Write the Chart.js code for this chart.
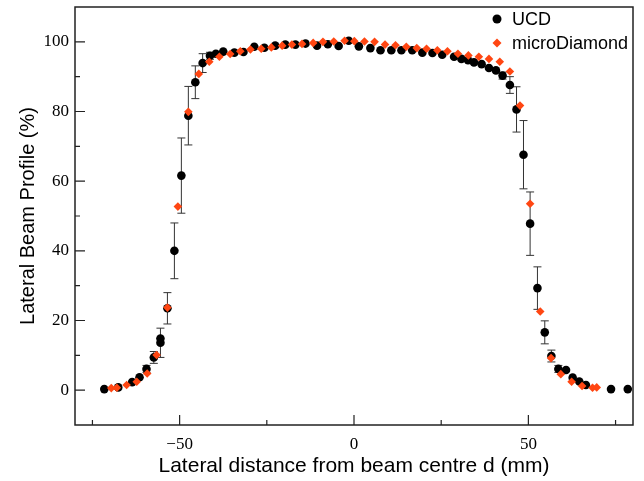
<!DOCTYPE html>
<html>
<head>
<meta charset="utf-8">
<script src="https://cdn.jsdelivr.net/npm/chart.js@4/dist/chart.umd.min.js"></script>
<style>
  html, body { margin: 0; padding: 0; background: #fff; }
  #wrap { width: 644px; height: 481px; }
</style>
</head>
<body>
<div id="wrap"><canvas id="myChart" width="644" height="481"></canvas></div>
<script>
// UCD (points + symmetric error bars)
var ucdX = [-71.6, -67.6, -63.6, -61.5, -59.5, -57.4, -55.5, -55.5, -53.5, -51.5,
            -49.5, -47.5, -45.5, -43.4, -41.3, -39.6, -37.5, -34.3, -31.7, -28.6,
            -25.7, -22.6, -19.7, -16.8, -13.9, -10.6, -7.5, -4.4, -1.5, 1.4,
            4.7, 7.6, 10.7, 13.6, 16.7, 19.6, 22.5, 25.3, 28.7, 30.8,
            32.7, 34.4, 36.6, 38.7, 40.7, 42.6, 44.7, 46.6, 48.6, 50.5,
            52.6, 54.7, 56.6, 58.6, 60.8, 62.7, 64.6, 66.5, 73.7, 78.5];
var ucdY = [0.3, 0.8, 2.3, 3.7, 6.1, 9.4, 13.6, 14.8, 23.5, 40.0,
            61.6, 78.8, 88.4, 93.9, 96.0, 96.6, 97.2, 96.9, 97.1, 98.6,
            98.3, 98.9, 99.2, 99.2, 99.5, 98.9, 99.3, 98.8, 100.3, 98.7,
            98.2, 97.6, 97.6, 97.6, 97.6, 96.9, 96.8, 96.3, 95.7, 95.1,
            94.7, 94.1, 93.6, 92.5, 91.8, 90.3, 87.6, 80.6, 67.6, 47.8,
            29.3, 16.6, 9.8, 6.1, 5.8, 3.6, 2.5, 1.5, 0.3, 0.3];
var ucdErr = [0, 0, 0, 0, 1.0, 1.7, 4.2, 0, 4.5, 8.0,
              10.8, 8.4, 4.7, 2.7, 1.0, 0, 0, 0, 0, 0,
              0, 0, 0, 0, 0, 0, 0, 0, 0, 0,
              0, 0, 0, 0, 0, 0, 0, 0, 0, 0,
              0, 0, 0, 0, 0, 1.0, 2.4, 6.5, 9.8, 9.1,
              6.1, 3.3, 1.7, 1.0, 0, 0, 0, 0, 0, 0];

// microDiamond
var mdX = [-69.6, -68.0, -65.2, -62.3, -59.3, -56.6, -53.5, -50.5, -47.5, -44.5,
           -41.5, -38.6, -35.5, -32.6, -29.7, -26.6, -23.7, -20.6, -17.8, -14.9,
           -11.7, -8.9, -5.8, -2.7, 0.1, 3.0, 5.9, 8.9, 11.9, 15.0,
           18.0, 20.8, 23.9, 26.8, 29.8, 32.8, 35.8, 38.7, 41.8, 44.7,
           47.6, 50.5, 53.4, 56.5, 59.3, 62.4, 65.4, 68.4, 69.6];
var mdY = [0.6, 0.7, 1.5, 2.4, 4.8, 10.1, 23.7, 52.7, 79.9, 90.8,
           94.3, 95.7, 96.5, 97.3, 97.8, 98.0, 98.4, 98.9, 99.2, 99.4,
           99.7, 100.0, 100.1, 100.3, 100.2, 100.1, 100.0, 99.2, 99.0, 98.6,
           98.2, 98.0, 97.6, 97.3, 96.6, 96.1, 95.7, 95.1, 94.3, 91.5,
           81.7, 53.5, 22.6, 9.2, 4.6, 2.4, 1.2, 0.7, 0.8];

var xMajor = [-50, 0, 50];
var xMinor = [-75, -25, 25, 75];
var yMajor = [0, 20, 40, 60, 80, 100];
var yMinor = [10, 30, 50, 70, 90];

var seriesNames = ['UCD', 'microDiamond'];
var colUCD = '#000000';
var colMD = '#ff4612';

function toPts(xs, ys) {
  var out = [];
  for (var i = 0; i < xs.length; i++) out.push({x: xs[i], y: ys[i]});
  return out;
}

// error bars, drawn under the markers
var errorBars = {
  id: 'errorBars',
  beforeDatasetsDraw: function(chart) {
    var ctx = chart.ctx, xs = chart.scales.x, ys = chart.scales.y;
    ctx.save();
    ctx.strokeStyle = '#333';
    ctx.lineWidth = 1;
    for (var i = 0; i < ucdX.length; i++) {
      if (!ucdErr[i]) continue;
      var px = xs.getPixelForValue(ucdX[i]);
      var top = ys.getPixelForValue(ucdY[i] + ucdErr[i]);
      var bot = ys.getPixelForValue(ucdY[i] - ucdErr[i]);
      ctx.beginPath();
      ctx.moveTo(px, top); ctx.lineTo(px, bot);
      ctx.moveTo(px - 4, top); ctx.lineTo(px + 4, top);
      ctx.moveTo(px - 4, bot); ctx.lineTo(px + 4, bot);
      ctx.stroke();
    }
    ctx.restore();
  }
};

// frame, inward ticks and legend
var frame = {
  id: 'frame',
  afterDraw: function(chart) {
    var ctx = chart.ctx, a = chart.chartArea, xs = chart.scales.x, ys = chart.scales.y;
    ctx.save();
    ctx.strokeStyle = '#222';
    ctx.lineWidth = 1.5;
    ctx.strokeRect(a.left, a.top, a.right - a.left, a.bottom - a.top);
    ctx.lineWidth = 1.2;
    ctx.beginPath();
    xMajor.forEach(function(v) { var p = xs.getPixelForValue(v); ctx.moveTo(p, a.bottom); ctx.lineTo(p, a.bottom - 10); });
    xMinor.forEach(function(v) { var p = xs.getPixelForValue(v); ctx.moveTo(p, a.bottom); ctx.lineTo(p, a.bottom - 5); });
    yMajor.forEach(function(v) { var p = ys.getPixelForValue(v); ctx.moveTo(a.left, p); ctx.lineTo(a.left + 10, p); });
    yMinor.forEach(function(v) { var p = ys.getPixelForValue(v); ctx.moveTo(a.left, p); ctx.lineTo(a.left + 5, p); });
    ctx.stroke();

    // legend, top right inside the plot
    var lx = a.right - 136, ly = a.top + 12;
    ctx.fillStyle = colUCD;
    ctx.beginPath(); ctx.arc(lx, ly, 4.5, 0, Math.PI * 2); ctx.fill();
    ctx.fillStyle = colMD;
    ctx.beginPath();
    ctx.moveTo(lx, ly + 24 - 4.5); ctx.lineTo(lx + 4.5, ly + 24);
    ctx.lineTo(lx, ly + 24 + 4.5); ctx.lineTo(lx - 4.5, ly + 24);
    ctx.closePath(); ctx.fill();
    ctx.fillStyle = '#000';
    ctx.font = '18px "Liberation Sans", Arial, sans-serif';
    ctx.textBaseline = 'middle';
    ctx.fillText(seriesNames[0], lx + 15, ly + 1);
    ctx.fillText(seriesNames[1], lx + 15, ly + 25);
    ctx.restore();
  }
};

var ctx = document.getElementById('myChart').getContext('2d');
var myChart = new Chart(ctx, {
  type: 'scatter',
  data: {
    datasets: [
      {
        label: seriesNames[0],
        data: toPts(ucdX, ucdY),
        pointStyle: 'circle',
        pointRadius: 4.3,
        backgroundColor: colUCD,
        borderColor: colUCD,
        borderWidth: 0,
        order: 2
      },
      {
        label: seriesNames[1],
        data: toPts(mdX, mdY),
        pointStyle: 'rectRot',
        pointRadius: 4.3,
        backgroundColor: colMD,
        borderColor: colMD,
        borderWidth: 0,
        order: 1
      }
    ]
  },
  options: {
    responsive: false,
    animation: false,
    layout: { padding: { left: 0, right: 11, top: 7, bottom: 0 } },
    plugins: {
      legend: { display: false },
      tooltip: { enabled: false }
    },
    scales: {
      x: {
        type: 'linear',
        min: -80,
        max: 80,
        afterBuildTicks: function(s) { s.ticks = xMajor.map(function(v) { return {value: v}; }); },
        afterFit: function(s) { s.height = 56; s.paddingLeft = 0; s.paddingRight = 0; },
        grid: { display: true, drawOnChartArea: false, drawTicks: false },
        border: { display: false },
        ticks: {
          padding: 9,
          color: '#000',
          font: { family: '"Liberation Serif", "Times New Roman", serif', size: 17 },
          callback: function(v) { return v < 0 ? '\u2212' + Math.abs(v) : '' + v; }
        },
        title: {
          display: true,
          text: 'Lateral distance from beam centre d (mm)',
          color: '#000',
          padding: { top: 0, bottom: 2 },
          font: { family: '"Liberation Sans", Arial, sans-serif', size: 21 }
        }
      },
      y: {
        type: 'linear',
        min: -10,
        max: 110,
        afterBuildTicks: function(s) { s.ticks = yMajor.map(function(v) { return {value: v}; }); },
        afterFit: function(s) { s.width = 75; s.paddingTop = 0; s.paddingBottom = 0; },
        grid: { display: true, drawOnChartArea: false, drawTicks: false },
        border: { display: false },
        ticks: {
          padding: 6,
          color: '#000',
          font: { family: '"Liberation Serif", "Times New Roman", serif', size: 17 }
        },
        title: {
          display: true,
          text: 'Lateral Beam Profile (%)',
          color: '#000',
          padding: { top: 16, bottom: 0 },
          font: { family: '"Liberation Sans", Arial, sans-serif', size: 20 }
        }
      }
    }
  },
  plugins: [errorBars, frame]
});
</script>
</body>
</html>
